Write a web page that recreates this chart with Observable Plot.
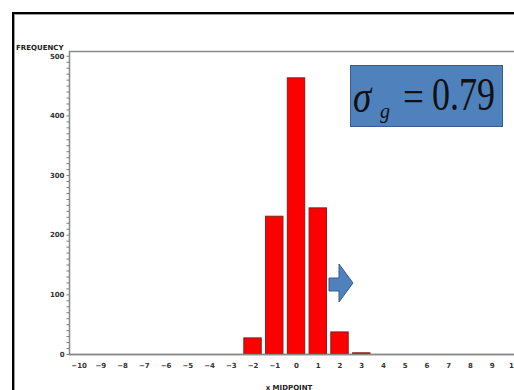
<!DOCTYPE html>
<html>
<head>
<meta charset="utf-8">
<script src="https://cdn.jsdelivr.net/npm/d3@7"></script>
<script src="https://cdn.jsdelivr.net/npm/@observablehq/plot@0.6"></script>
<style>
  html, body { margin: 0; padding: 0; background: #fff; overflow: hidden; }
  #wrap { position: relative; width: 514px; height: 390px; overflow: hidden; }
  #chart { position: absolute; left: 0; top: 0; width: 560px; }
  #chart svg { max-width: none !important; }
  #border { position: absolute; left: 12px; top: 12px; width: 600px; height: 500px;
            border-left: 2px solid #000; border-top: 2px solid #000;
            box-shadow: inset 1px 1px 0 #9a9a9a; }
  #box { position: absolute; left: 350px; top: 65px; width: 151px; height: 60px;
         background: #4f81bd; border: 1.5px solid #385d8a; overflow: hidden; }
  #box .t { position: absolute; font-family: "Liberation Serif", "DejaVu Serif", serif; color: #111;
            line-height: 1; transform-origin: left bottom; white-space: nowrap; }
  #arrow { position: absolute; left: 0; top: 0; }
</style>
</head>
<body>
<div id="wrap">
  <div id="chart"></div>
  <div id="border"></div>
  <div id="box">
    <span class="t" style="left:2px;top:16px;font-size:37px;font-style:italic;transform:scaleY(1.25);">σ</span>
    <span class="t" style="left:29px;top:35px;font-size:20px;font-style:italic;transform:scaleY(1.05);">g</span>
    <span class="t" style="left:52px;top:16px;font-size:37px;transform:scaleY(1.25);">=</span>
    <span class="t" style="left:81px;top:16px;font-size:36px;transform:scaleY(1.3);">0.79</span>
  </div>
  <svg id="arrow" width="514" height="390">
    <polygon points="329,278 339,278 339,264 353,283 339,302 339,291 329,291" fill="#4f81bd" stroke="#385d8a" stroke-width="1"/>
  </svg>
</div>
<script>
// Data
const midpoints = [-10,-9,-8,-7,-6,-5,-4,-3,-2,-1,0,1,2,3,4,5,6,7,8,9,10];
const frequency = [0,0,0,0,0,0,0,0,27,231,463,245,37,2,0,0,0,0,0,0,0];
const yTickValues = [0,100,200,300,400,500];
const xTickLabels = ["−10","−9","−8","−7","−6","−5","−4","−3","−2","−1","0","1","2","3","4","5","6","7","8","9","10"];
const yLabel = "FREQUENCY";
const xLabel = "x MIDPOINT";

const data = midpoints.map((m, i) => ({m, f: frequency[i]})).filter(d => d.f > 0);
const minorY = d3.range(0, 510, 10);

const tickFont = "DejaVu Sans, sans-serif";

const chart = Plot.plot({
  width: 560,
  height: 390,
  marginLeft: 69,
  marginRight: 30,
  marginTop: 51,
  marginBottom: 36,
  style: {fontFamily: tickFont, fontSize: "7px", fontWeight: "bold", color: "#222", background: "transparent", maxWidth: "none"},
  x: {domain: [-10.44, 10.76], range: [69, 530]},
  y: {domain: [0, 508]},
  marks: [
    Plot.frame({stroke: "#8a8a8a", strokeWidth: 1.5}),
    Plot.rectY(data, {x1: d => d.m - 0.4, x2: d => d.m + 0.4, y1: 0, y2: "f",
      fill: "#ff0000", stroke: "#8b1a1a", strokeWidth: 1}),
    Plot.axisY({ticks: minorY, tickSize: 2.5, text: null, stroke: "#777", label: null}),
    Plot.axisY({ticks: yTickValues, tickSize: 0, tickPadding: 5, tickFormat: d => String(d),
      label: null, fill: "#333"}),
    Plot.axisX({ticks: midpoints, tickSize: 0, tickPadding: 9,
      tickFormat: (d) => xTickLabels[midpoints.indexOf(d)], label: null, fill: "#333"}),
    Plot.ruleY([0], {stroke: "#8a8a8a", strokeWidth: 1.5}),
    Plot.text([yLabel], {frameAnchor: "top-left", text: d => d, textAnchor: "end",
      dx: -6, dy: -6, fontSize: 7, fontWeight: "bold", fill: "#222"}),
    Plot.text([xLabel], {frameAnchor: "bottom", text: d => d, textAnchor: "middle",
      dx: -11, dy: 35, fontSize: 7, fontWeight: "bold", fill: "#222"})
  ]
});
document.getElementById("chart").appendChild(chart);
</script>
</body>
</html>
